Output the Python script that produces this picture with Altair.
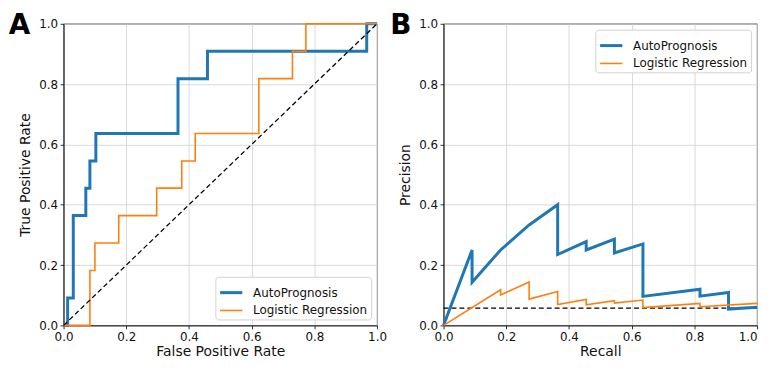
import altair as alt
import pandas as pd

FONT = "DejaVu Sans"
models = ["AutoPrognosis", "Logistic Regression"]
colors = ["#1f77b4", "#ff7f0e"]
line_widths = [3.0, 1.6]
ticks = [0.0, 0.2, 0.4, 0.6, 0.8, 1.0]

# ROC curve vertices (step-after)
roc_ap_fpr = [0.0, 0.013, 0.031, 0.071, 0.084, 0.103, 0.365, 0.459, 0.967, 1.0]
roc_ap_tpr = [0.0, 0.091, 0.364, 0.455, 0.545, 0.636, 0.818, 0.909, 1.0, 1.0]
roc_lr_fpr = [0.0, 0.084, 0.100, 0.176, 0.297, 0.377, 0.420, 0.623, 0.730, 0.773, 1.0]
roc_lr_tpr = [0.0, 0.182, 0.273, 0.364, 0.455, 0.545, 0.636, 0.818, 0.909, 1.0, 1.0]
chance_x = [0.0, 1.0]
chance_y = [0.0, 1.0]

# Precision-recall curves
pr_ap_recall = [0.0, 0.091, 0.091, 0.182, 0.273, 0.364, 0.364, 0.455, 0.455, 0.545,
                0.545, 0.636, 0.636, 0.818, 0.818, 0.909, 0.909, 1.0]
pr_ap_precision = [0.0, 0.25, 0.143, 0.25, 0.333, 0.40, 0.235, 0.278, 0.25, 0.286,
                   0.24, 0.27, 0.096, 0.12, 0.097, 0.109, 0.054, 0.06]
pr_lr_recall = [0.0, 0.182, 0.182, 0.273, 0.273, 0.364, 0.364, 0.455, 0.455, 0.545,
                0.545, 0.636, 0.636, 0.818, 0.818, 1.0]
pr_lr_precision = [0.0, 0.118, 0.101, 0.144, 0.087, 0.112, 0.069, 0.086, 0.068, 0.082,
                   0.074, 0.084, 0.059, 0.073, 0.062, 0.073]
prevalence = 0.057
baseline_x = [0.0, 1.0]
baseline_y = [prevalence, prevalence]

W, H = 316, 304


def series(model, xs, ys):
    return pd.DataFrame({"x": xs, "y": ys, "model": model, "i": list(range(len(xs)))})


roc_df = pd.concat([series(models[0], roc_ap_fpr, roc_ap_tpr),
                    series(models[1], roc_lr_fpr, roc_lr_tpr)])
pr_df = pd.concat([series(models[0], pr_ap_recall, pr_ap_precision),
                   series(models[1], pr_lr_recall, pr_lr_precision)])
chance_df = pd.DataFrame({"x": chance_x, "y": chance_y})
base_df = pd.DataFrame({"x": baseline_x, "y": baseline_y})


def panel(df, ref_df, interp, xtitle, ytitle, orient, letter, letter_x, ref_first, flush_last):
    xaxis_kw = dict(title=xtitle, values=ticks, format=".1f")
    if flush_last:
        xaxis_kw["labelAlign"] = {"condition": {"test": "datum.value >= 1", "value": "right"},
                                  "value": "center"}
    x = alt.X("x:Q", scale=alt.Scale(domain=[0, 1], nice=False), axis=alt.Axis(**xaxis_kw))
    y = alt.Y("y:Q", scale=alt.Scale(domain=[0, 1], nice=False),
              axis=alt.Axis(title=ytitle, values=ticks, format=".1f"))
    lines = alt.Chart(df).mark_line(interpolate=interp).encode(
        x=x, y=y,
        color=alt.Color("model:N", scale=alt.Scale(domain=models, range=colors),
                        legend=alt.Legend(title=None, orient=orient, offset=6,
                                          symbolType="stroke", symbolSize=500,
                                          symbolStrokeWidth=2.5, labelFontSize=12,
                                          labelFont=FONT, labelColor="#111",
                                          fillColor="white", strokeColor="#d0d0d0",
                                          cornerRadius=3, padding=3, rowPadding=-4,
                                          labelOffset=9)),
        strokeWidth=alt.StrokeWidth("model:N", scale=alt.Scale(domain=models, range=line_widths),
                                    legend=None),
        order="i:Q",
    )
    ref = alt.Chart(ref_df).mark_line(color="black", strokeDash=[5, 3], strokeWidth=1.3).encode(x=x, y=y)
    lab = alt.Chart(pd.DataFrame({"t": [letter]})).mark_text(
        font=FONT, fontSize=28, fontWeight="bold", align="left", baseline="top", color="black"
    ).encode(text="t:N", x=alt.value(letter_x), y=alt.value(-11.5))
    layers = [ref, lines, lab] if ref_first else [lines, ref, lab]
    return alt.layer(*layers).properties(width=W, height=H)


left = panel(roc_df, chance_df, "step-after", "False Positive Rate", "True Positive Rate",
             "bottom-right", "A", -55.3, False, False)
right = panel(pr_df, base_df, "linear", "Recall", "Precision",
              "top-right", "B", -53.6, True, True)

chart = alt.hconcat(left, right, spacing=3).resolve_scale(
    color="independent", strokeWidth="independent"
).resolve_legend(color="independent").properties(
    padding={"left": 0, "top": 2.5, "right": 0, "bottom": 0}
).configure_axis(
    labelFont=FONT, titleFont=FONT, labelFontSize=12, titleFontSize=14,
    titleFontWeight="normal", labelColor="#111", titleColor="#111",
    domainColor="black", tickColor="black", domainWidth=0.8, tickWidth=0.8,
    tickSize=3.5, gridColor="#d0d0d0", gridWidth=0.8, labelPadding=2.5,
    labelFlush=False, labelOverlap=False,
).configure_axisX(titlePadding=2).configure_axisY(titlePadding=6).configure_view(
    stroke="black", strokeWidth=0.8
)

chart.save("out.html", embed_options={"renderer": "svg", "actions": False})
